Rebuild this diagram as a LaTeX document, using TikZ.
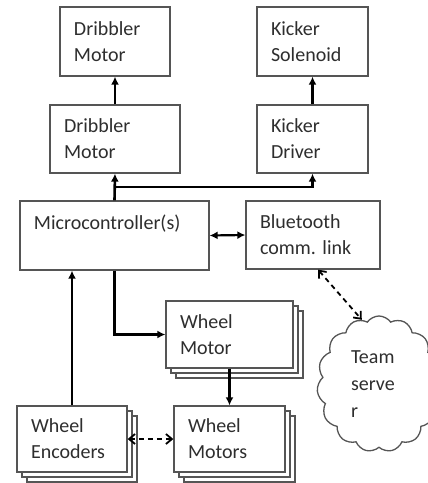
\documentclass[tikz,border=0pt]{standalone}
\usepackage{fontspec}
\setmainfont{Carlito}
\usetikzlibrary{arrows.meta,shadows,shapes.symbols}
\definecolor{boxline}{HTML}{555555}
\definecolor{boxtext}{HTML}{2E2E2E}
\tikzset{
  block/.style args={#1x#2}{draw=boxline, line width=1.3pt, fill=white,
    text=boxtext, align=left, inner xsep=14pt, inner ysep=0pt,
    text width=#1pt-28pt, minimum height=#2pt,
    font=\fontsize{20}{26}\selectfont},
  stack/.style={copy shadow={shadow xshift=10pt, shadow yshift=-10pt},
    copy shadow={shadow xshift=5pt, shadow yshift=-5pt}},
  link/.style={line width=2.6pt, -{Latex[length=8pt,width=8pt]}},
  duplex/.style={line width=2.2pt, {Latex[length=8pt,width=8pt]}-{Latex[length=8pt,width=8pt]}},
  wireless/.style={line width=1.8pt, dash pattern=on 5pt off 4pt,
    {Straight Barb[length=6pt,width=10pt]}-{Straight Barb[length=6pt,width=10pt]}}
}
\begin{document}
\begin{tikzpicture}[x=1pt,y=-1pt]
\useasboundingbox (0,0) rectangle (428,483);
\clip (0,0) rectangle (428,483);
% actuators on top
\node[block=110x69] (dmot) at (115,41.5) {Dribbler\\Motor};
\node[block=111x69] (ksol) at (312.5,41.5) {Kicker\\Solenoid};
\node[block=130x68] (drv) at (115,139) {Dribbler\\Motor};
\node[block=111x68] (kdrv) at (312.5,139) {Kicker\\Driver};
% controller and radio
\node[block=189x69] (micro) at (114.5,235.5) {Microcontroller(s)\\~};
\node[block=134x68] (bt) at (313,235) {Bluetooth\\comm.\ link};
% wheels
\node[block=127x67, stack] (wmotor) at (229.5,334.5) {Wheel\\Motor};
\node[block=111x66, stack] (wmots) at (229.5,439) {Wheel\\Motors};
\node[block=110x66, stack] (wenc) at (72,439) {Wheel\\Encoders};
\node[cloud, cloud puffs=15, cloud puff arc=110, cloud ignores aspect,
  draw=boxline, line width=1.3pt, text=boxtext, minimum width=124pt,
  minimum height=136pt, text width=56pt, align=left, inner sep=0pt,
  font=\fontsize{20}{27}\selectfont] (team) at (379,384) {Team\\serve\\r};
\coordinate (bus) at (115,187);
% connectors
\draw[link] (drv) -- (dmot);
\draw[link] (kdrv) -- (ksol);
\draw[link] (micro.north) -- (drv.south);
\draw[link] (bus) -| (kdrv.south);
\draw[duplex] (micro.east) -- (bt.west);
\draw[link] (micro.south) |- (wmotor.west);
\draw[link] (wenc.north) -- (wenc.north |- micro.south);
\draw[link] (wmotor) -- (wmots);
\draw[wireless] ([xshift=5pt]bt.south) -- (team.105);
\draw[wireless] (wenc.east) -- (wmots.west);
\end{tikzpicture}
\end{document}
